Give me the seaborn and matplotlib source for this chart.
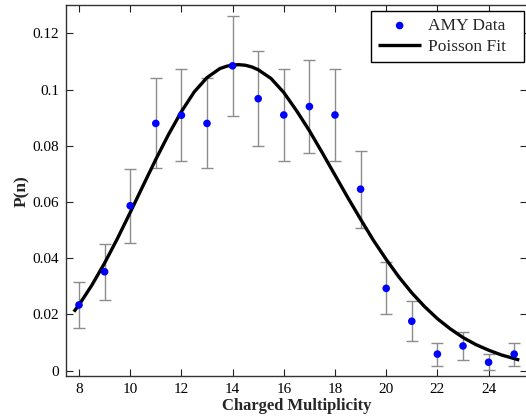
import numpy as np
import pandas as pd
import matplotlib
matplotlib.use("Agg")
import matplotlib.pyplot as plt
import seaborn as sns
from matplotlib.ticker import FormatStrFormatter

# measured points (AMY data)
multiplicity = [8, 9, 10, 11, 12, 13, 14, 15, 16, 17, 18, 19, 20, 21, 22, 23, 24, 25]
prob = [0.0234, 0.0352, 0.0587, 0.0880, 0.0909, 0.0880, 0.1085, 0.0968, 0.0910,
        0.0940, 0.0910, 0.0646, 0.0293, 0.0176, 0.0059, 0.0088, 0.0030, 0.0059]
prob_err = [0.0083, 0.0100, 0.0131, 0.0160, 0.0164, 0.0160, 0.0179, 0.0168, 0.0164,
            0.0166, 0.0164, 0.0137, 0.0093, 0.0071, 0.0041, 0.0051, 0.0029, 0.0041]

# fit curve
fit_n = [7.8, 8, 8.5, 9, 9.5, 10, 10.5, 11, 11.5, 12, 12.5, 13, 13.5, 13.75, 14,
         14.25, 14.5, 14.75, 15, 15.5, 16, 16.5, 17, 17.5, 18, 18.5, 19, 19.5,
         20, 20.5, 21, 21.5, 22, 22.5, 23, 23.5, 24, 24.5, 25, 25.2]
fit_p = [0.0210, 0.0234, 0.0304, 0.0383, 0.0470, 0.0563, 0.0658, 0.0752, 0.0841,
         0.0922, 0.0992, 0.1043, 0.1075, 0.1083, 0.1088, 0.1089, 0.1087, 0.1081,
         0.1071, 0.1040, 0.0990, 0.0925, 0.0854, 0.0776, 0.0696, 0.0616, 0.0539,
         0.0464, 0.0396, 0.0333, 0.0277, 0.0228, 0.0185, 0.0149, 0.0118, 0.0093,
         0.0073, 0.0056, 0.0043, 0.0038]

df = pd.DataFrame({"n": multiplicity, "p": prob, "err": prob_err})
fit = pd.DataFrame({"n": fit_n, "p": fit_p})

sns.set_style("ticks")
plt.rcParams["font.family"] = ["Liberation Serif", "DejaVu Serif"]
plt.rcParams["xtick.direction"] = "in"
plt.rcParams["ytick.direction"] = "in"

fig = plt.figure(figsize=(5.26, 4.18), dpi=100)
ax = fig.add_axes([66.2 / 526, 41.7 / 418, 460.8 / 526, 370.9 / 418])

# error bars first so the dots sit on top
ax.errorbar(df["n"], df["p"], yerr=df["err"], fmt="none", ecolor="#8c8c8c",
            elinewidth=1.0, capsize=4, capthick=1.0, zorder=1)
sns.lineplot(data=fit, x="n", y="p", ax=ax, color="black", linewidth=2.4,
             label="Poisson Fit", zorder=2, sort=False,
             solid_joinstyle="round", solid_capstyle="butt")
sns.scatterplot(data=df, x="n", y="p", ax=ax, color="#0000ff", s=30,
                edgecolor="none", label="AMY Data", zorder=3)

ax.set_xlim(7.5, 25.5)
ax.set_ylim(-0.002, 0.13)
ax.set_xticks(range(8, 25, 2))
ax.set_yticks([0, 0.02, 0.04, 0.06, 0.08, 0.1, 0.12])
ax.yaxis.set_major_formatter(FormatStrFormatter("%g"))
ax.tick_params(top=True, right=True, length=5, width=0.8, labelsize=11,
               colors="#222222", labelcolor="black", pad=5)
for s in ax.spines.values():
    s.set_linewidth(1.0)
    s.set_color("#333333")

ax.set_xlabel("Charged Multiplicity", fontsize=12, fontweight="bold", labelpad=1)
ax.set_ylabel("P(n)", fontsize=12.5, fontweight="bold", labelpad=2)

# legend order: data then fit
h, l = ax.get_legend_handles_labels()
order = [l.index("AMY Data"), l.index("Poisson Fit")]
leg = ax.legend([h[i] for i in order], [l[i] for i in order],
                loc="upper right",
                bbox_to_anchor=(371 / 526, 1 - 63 / 418, 153 / 526, 52 / 418),
                bbox_transform=fig.transFigure, mode="expand", borderaxespad=0,
                fontsize=12.5, handlelength=2.5, fancybox=False, framealpha=1,
                edgecolor="black", borderpad=0.4, labelspacing=0.3,
                handletextpad=0.4)
leg.get_frame().set_linewidth(1.0)

fig.savefig("out.png", dpi=100)
